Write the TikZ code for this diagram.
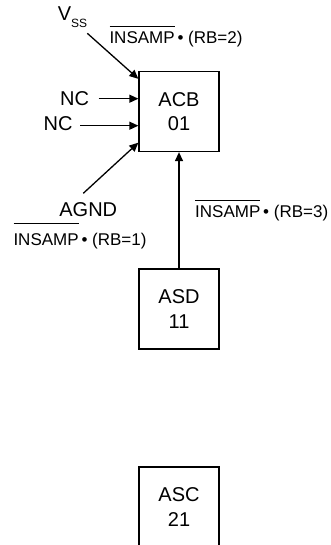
\documentclass[tikz,border=0pt]{standalone}
\usepackage{fontspec}
\setmainfont{Liberation Sans}
\usetikzlibrary{arrows.meta,calc}
\newcommand{\ovlgap}[2]{\leavevmode\vbox{\hrule height 0.9pt\kern #1\hbox{#2}}}
\tikzset{
  blk/.style={draw, line width=1.3pt, minimum width=80pt, minimum height=80pt, inner sep=0pt, align=center, font=\fontsize{20}{24.7}\selectfont},
  big/.style={inner sep=0pt, font=\fontsize{20}{24}\selectfont},
  small/.style={inner sep=0pt, font=\fontsize{17}{20}\selectfont},
  conn/.style={line width=1.3pt, -{Triangle[length=9pt,width=8pt]}},
}
\begin{document}
\begin{tikzpicture}[x=1pt,y=-1pt]
\useasboundingbox (0,0) rectangle (331,545);
\clip (0,0) rectangle (331,545);
% boxes
\node[blk] (acb) at (179,111.5) {ACB\\01};
\node[blk] (asd) at (179,309) {ASD\\11};
\node[blk] (asc) at (179,507) {ASC\\21};
% labels
\node[big, anchor=base west] (vss) at (57.7,20.7) {V\raisebox{-7pt}{\fontsize{12}{12}\selectfont SS}};
\node[small, anchor=base west] (rb2) at (109.3,43.3) {\ovlgap{4.5pt}{INSAMP}\,• (RB=2)};
\node[big, anchor=base east] (nc1) at (89.3,105.3) {NC};
\node[big, anchor=base east] (nc2) at (72.7,130.7) {NC};
\node[big, anchor=base] (agnd) at (88.3,216.7) {AGND};
\node[small, anchor=base west] (rb1) at (13.3,245.7) {\ovlgap{10pt}{INSAMP}\,• (RB=1)};
\node[small, anchor=base west] (rb3) at (195,217.4) {\ovlgap{5pt}{INSAMP}\,• (RB=3)};
% connector ends
\coordinate (vsse) at (87.3,33.3);
\coordinate (nc1e) at (98.7,98.7);
\coordinate (nc2e) at (80,125.7);
\coordinate (agnde) at (83.3,193.3);
% connectors
\draw[conn] (vsse) -- ($(acb.north west)+(0,8)$);
\draw[conn] (nc1e) -- (nc1e -| acb.west);
\draw[conn] (nc2e) -- (nc2e -| acb.west);
\draw[conn] (agnde) -- ($(acb.south west)+(0,-9.5)$);
\draw[conn] (asd.north) -- (acb.south);
\end{tikzpicture}
\end{document}
